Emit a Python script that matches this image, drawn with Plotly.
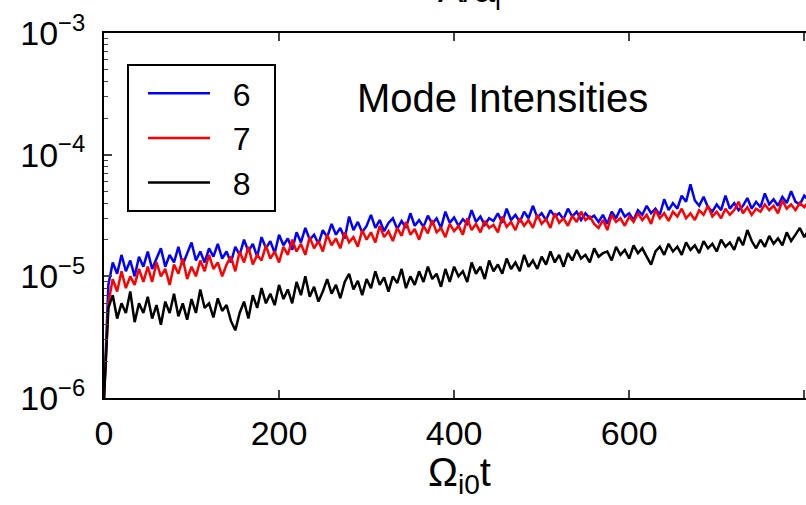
import plotly.graph_objects as go

# time axis (Omega_i0 t), step 5
t = list(range(0, 815, 5))

# mode intensities, in units of 1e-5
mode6 = [
    0.1, 0.85, 1.3, 1.05, 1.5, 1.1, 1.35, 1.0, 1.45, 1.2,
    1.6, 1.15, 1.4, 1.7, 1.2, 1.5, 1.3, 1.75, 1.25, 1.55,
    1.9, 1.35, 1.6, 1.3, 1.7, 1.45, 1.85, 1.4, 1.6, 1.3,
    1.75, 1.5, 2.0, 1.6, 1.85, 1.45, 2.1, 1.7, 1.95, 1.55,
    2.2, 1.8, 2.05, 1.65, 2.3, 1.9, 2.5, 2.0, 2.2, 1.85,
    2.4, 2.1, 2.7, 2.2, 2.5, 2.05, 3.1, 2.4, 2.8, 2.3,
    2.6, 3.2, 2.5, 2.9, 2.35, 2.75, 3.0, 2.45, 2.85, 2.5,
    3.3, 2.6, 2.9, 2.55, 3.15, 2.7, 3.0, 2.5, 3.4, 2.75,
    3.05, 2.6, 2.95, 2.7, 3.5, 2.8, 3.1, 2.65, 3.0, 2.85,
    3.3, 2.75, 3.6, 2.9, 3.2, 2.8, 3.4, 3.0, 3.8, 3.05,
    3.3, 2.9, 3.5, 3.1, 3.3, 2.95, 3.6, 3.1, 3.4, 2.9,
    3.3, 3.0, 3.15, 2.8, 3.2, 2.7, 3.4, 3.0, 3.6, 3.1,
    3.3, 2.9, 3.5, 3.2, 3.8, 3.3, 3.6, 3.2, 4.3, 3.5,
    4.0, 3.6, 4.6, 4.1, 5.7, 4.2, 3.8, 4.5, 3.7, 3.4,
    3.9, 3.5, 4.6, 3.6, 4.0, 3.5, 3.8, 4.4, 3.6, 4.1,
    3.7, 4.8, 3.9, 4.3, 3.8, 4.5, 4.0, 5.0, 4.1, 3.9,
    4.6, 4.2, 4.4,
]
mode7 = [
    0.1, 0.6, 0.95, 0.75, 1.1, 0.8, 1.0, 0.85, 1.15, 0.9,
    1.2, 0.9, 1.3, 1.0, 1.15, 0.85, 1.25, 1.05, 1.4, 0.95,
    1.2, 1.0, 1.35, 1.1, 1.5, 1.15, 1.3, 1.0, 1.25, 1.45,
    1.1, 1.6, 1.3, 1.75, 1.25, 1.5, 1.35, 1.8, 1.4, 1.6,
    1.3, 1.75, 1.5, 2.0, 1.6, 1.85, 1.5, 2.1, 1.7, 1.95,
    1.6, 2.2, 1.8, 2.05, 1.7, 2.3, 1.9, 2.1, 1.75, 2.4,
    2.0, 2.3, 1.9, 2.6, 2.1, 2.35, 1.95, 2.5, 2.15, 2.8,
    2.2, 2.45, 2.0, 2.6, 2.25, 2.9, 2.3, 2.5, 2.1, 2.7,
    2.35, 2.6, 2.2, 3.0, 2.4, 2.7, 2.3, 2.85, 2.5, 2.65,
    2.3, 3.1, 2.55, 2.8, 2.4, 3.0, 2.6, 2.9, 2.5, 3.2,
    2.7, 2.95, 2.5, 3.3, 2.75, 3.0, 2.6, 3.15, 2.8, 3.4,
    2.9, 3.1, 2.7, 2.5, 2.9, 2.4, 3.2, 2.8, 3.0, 2.6,
    3.1, 2.8, 3.3, 2.9, 3.2, 2.7, 3.5, 3.0, 3.3, 2.85,
    3.4, 3.1, 3.6, 3.0, 3.3, 2.9, 3.5, 3.2, 3.8, 3.1,
    3.4, 3.0, 3.6, 3.2, 3.5, 4.1, 3.3, 3.7, 3.2, 3.6,
    3.4, 3.9, 3.5, 3.8, 3.3, 4.2, 3.6, 3.9, 3.5, 4.0,
    3.7, 4.1, 3.8,
]
mode8 = [
    0.1, 0.55, 0.7, 0.45, 0.6, 0.5, 0.75, 0.42, 0.6, 0.5,
    0.68, 0.45, 0.58, 0.4, 0.62, 0.5, 0.72, 0.47, 0.6, 0.44,
    0.65, 0.5, 0.78, 0.55, 0.6, 0.46, 0.66, 0.52, 0.58, 0.43,
    0.36, 0.5, 0.62, 0.45, 0.7, 0.55, 0.8, 0.6, 0.72, 0.58,
    0.85, 0.65, 0.78, 0.6, 0.9, 0.7, 1.0, 0.68, 0.82, 0.62,
    0.75, 0.95, 0.72, 0.85, 0.66, 0.9, 1.05, 0.78, 0.92, 0.7,
    0.95, 0.8, 1.1, 0.85, 0.98, 0.75, 1.0, 0.88, 1.15, 0.8,
    1.0, 0.85, 1.1, 0.9, 1.2, 0.95, 1.05, 0.82, 1.15, 0.9,
    1.2, 1.0, 1.1, 0.9, 1.3, 1.05, 1.2, 0.95, 1.35, 1.1,
    1.25, 1.05, 1.4, 1.15, 1.3, 1.1, 1.5, 1.2, 1.35, 1.15,
    1.45, 1.25, 1.6, 1.3, 1.5, 1.2, 1.55, 1.35, 1.65, 1.4,
    1.5, 1.3, 1.7, 1.45, 1.55, 1.6, 1.35, 1.75, 1.5, 1.65,
    1.4, 1.8, 1.55, 1.7, 1.45, 1.25, 1.6, 1.75, 1.5, 1.85,
    1.6, 1.75, 1.5, 1.9, 1.65, 1.8, 1.55, 1.95, 1.7, 1.85,
    1.6, 2.0, 1.75, 1.9, 1.65, 2.1, 1.8, 2.4, 1.95, 1.7,
    2.0, 1.75, 2.15, 1.85, 2.05, 1.8, 2.3, 1.95, 2.2, 2.5,
    2.1, 2.4, 2.3,
]
UNIT = 1e-5

series_names = ["6", "7", "8"]
series_colors = ["#0000ff", "#ff0000", "#000000"]

ytick_vals = [1e-6, 1e-5, 1e-4, 1e-3]
ytick_text = ["10<sup>\u22126</sup>", "10<sup>\u22125</sup>", "10<sup>\u22124</sup>", "10<sup>\u22123</sup>"]
xtick_vals = [0, 200, 400, 600, 800]

FONT = "Liberation Sans, Arial, Helvetica, sans-serif"

fig = go.Figure()
for name, vals, col in zip(series_names, [mode6, mode7, mode8], series_colors):
    fig.add_trace(go.Scatter(
        x=t, y=[v * UNIT for v in vals], mode="lines",
        name="\u00a0\u00a0" + name + "\u00a0\u00a0",
        line=dict(color=col, width=2.5),
    ))

minor_vals = [k * 10.0 ** e for e in (-6, -5, -4) for k in range(2, 10)]

fig.update_layout(
    width=806, height=505,
    margin=dict(l=104, r=0, t=33, b=107),
    paper_bgcolor="white", plot_bgcolor="white",
    font=dict(family=FONT, size=34, color="black"),
    showlegend=True,
    legend=dict(
        x=0.0328, y=0.915, xanchor="left", yanchor="top",
        bordercolor="black", borderwidth=2, bgcolor="white",
        font=dict(size=32), itemwidth=62, indentation=14, tracegroupgap=0,
    ),
    xaxis=dict(
        range=[0, 802], tickvals=xtick_vals, ticks="inside", ticklen=8, tickwidth=1.5,
        showline=True, linecolor="black", linewidth=2, mirror="ticks",
        showgrid=False, zeroline=False, ticklabelstandoff=4,
    ),
    yaxis=dict(
        type="log", range=[-6, -3], tickvals=ytick_vals, ticktext=ytick_text,
        ticks="inside", ticklen=8, tickwidth=1.5,
        showline=True, linecolor="black", linewidth=2, mirror=False,
        showgrid=False, zeroline=False, ticklabelstandoff=10,
        minor=dict(tickvals=minor_vals, ticks="inside", ticklen=4, tickwidth=1, showgrid=False),
    ),
    annotations=[
        dict(text="Mode Intensities", xref="paper", yref="paper", x=0.568, y=0.822,
             xanchor="center", yanchor="middle", showarrow=False, font=dict(size=40)),
        dict(text="\u03a9<sub>i0</sub>t", xref="paper", yref="paper", x=0.507, y=-0.21,
             xanchor="center", yanchor="middle", showarrow=False, font=dict(size=40)),
        dict(text="A/a<sub>i</sub>", xref="paper", yref="paper", x=0.52, y=1.04,
             xanchor="center", yanchor="bottom", showarrow=False, font=dict(size=38)),
    ],
)

fig.write_html("out.html")
